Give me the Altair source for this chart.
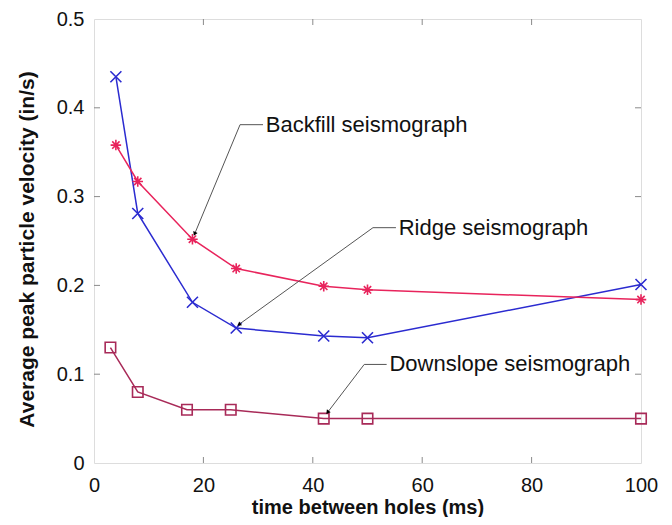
import math
import altair as alt
import pandas as pd

# ---- data ----
time_ridge = [4, 8, 18, 26, 42, 50, 100]
ridge = [0.435, 0.281, 0.181, 0.152, 0.143, 0.141, 0.201]
time_backfill = [4, 8, 18, 26, 42, 50, 100]
backfill = [0.358, 0.317, 0.252, 0.219, 0.199, 0.195, 0.184]
time_down = [3, 8, 17, 25, 42, 50, 100]
down = [0.130, 0.080, 0.060, 0.060, 0.050, 0.050, 0.050]

x_ticks = [0, 20, 40, 60, 80, 100]
y_ticks = [0, 0.1, 0.2, 0.3, 0.4, 0.5]

labels = ["Backfill seismograph", "Ridge seismograph", "Downslope seismograph"]
label_x = [31.4, 55.7, 54.0]
label_y = [0.381, 0.265, 0.111]
elbow_x = [26.7, 51.0, 49.4]
tip_x = [18.4, 26.5, 42.7]
tip_y = [0.258, 0.156, 0.057]

W, H = 547, 444
XMAX, YMAX = 100, 0.5

BLUE = "#2b2bd0"
PINK = "#e8245c"
MAROON = "#a82a58"
FRAME = "#8a8a8a"
FONT = "Liberation Sans"

xs = alt.Scale(domain=[0, XMAX], nice=False)
ys = alt.Scale(domain=[0, YMAX], nice=False)

def series(t, v, name):
    return pd.DataFrame({"t": t, "v": v, "s": name})

d_ridge = series(time_ridge, ridge, "Ridge")
d_back = series(time_backfill, backfill, "Backfill")
d_down = series(time_down, down, "Downslope")

X_PATH = "M-1,-1L1,1M-1,1L1,-1"
STAR_PATH = "M-1,0L1,0M0,-1L0,1M-0.7,-0.7L0.7,0.7M-0.7,0.7L0.7,-0.7"

def line_layer(df, color):
    return alt.Chart(df).mark_line(color=color, strokeWidth=1.5).encode(
        x=alt.X("t:Q", scale=xs,
                axis=alt.Axis(values=x_ticks, title="time between holes (ms)",
                              ticks=False, domain=False, grid=False, labelFlush=False,
                              labelFont=FONT, labelFontSize=20, labelColor="#111",
                              labelPadding=12,
                              titleFont=FONT, titleFontSize=20, titleFontWeight="bold",
                              titleColor="#111", titleX=W / 2, titleY=44,
                              titleBaseline="middle")),
        y=alt.Y("v:Q", scale=ys,
                axis=alt.Axis(values=y_ticks, title="Average peak particle velocity (in/s)",
                              ticks=False, domain=False, grid=False, format=".1~f",
                              labelFlush=False,
                              labelFont=FONT, labelFontSize=20, labelColor="#111",
                              labelPadding=10,
                              titleFont=FONT, titleFontSize=21, titleFontWeight="bold",
                              titleColor="#111", titleX=-67, titleY=230,
                              titleBaseline="middle")),
    )

def marker_layer(df, color, shape, size):
    return alt.Chart(df).mark_point(shape=shape, size=size, filled=False,
                                    color=color, strokeWidth=1.6, opacity=1).encode(
        x=alt.X("t:Q", scale=xs), y=alt.Y("v:Q", scale=ys))

# inward ticks
inner_x = pd.DataFrame({"t": x_ticks[1:-1]})
inner_y = pd.DataFrame({"v": y_ticks[1:-1]})
tick_len = 6
tb = alt.Chart(inner_x).mark_rule(color=FRAME, strokeWidth=1).encode(
    x=alt.X("t:Q", scale=xs), y=alt.value(H), y2=alt.value(H - tick_len))
tt = alt.Chart(inner_x).mark_rule(color=FRAME, strokeWidth=1).encode(
    x=alt.X("t:Q", scale=xs), y=alt.value(0), y2=alt.value(tick_len))
tl = alt.Chart(inner_y).mark_rule(color=FRAME, strokeWidth=1).encode(
    y=alt.Y("v:Q", scale=ys), x=alt.value(0), x2=alt.value(tick_len))
tr = alt.Chart(inner_y).mark_rule(color=FRAME, strokeWidth=1).encode(
    y=alt.Y("v:Q", scale=ys), x=alt.value(W), x2=alt.value(W - tick_len))

# annotation leaders
def px(x):
    return x / XMAX * W

def py(y):
    return H - y / YMAX * H

segs = []
heads = []
for i in range(len(labels)):
    segs.append({"x": label_x[i] - 0.5, "y": label_y[i], "x2": elbow_x[i], "y2": label_y[i]})
    segs.append({"x": elbow_x[i], "y": label_y[i], "x2": tip_x[i], "y2": tip_y[i]})
    dx = px(tip_x[i]) - px(elbow_x[i])
    dy = py(tip_y[i]) - py(label_y[i])
    ang = math.degrees(math.atan2(dx, -dy)) % 360
    heads.append({"x": tip_x[i], "y": tip_y[i], "a": ang})
seg_df = pd.DataFrame(segs)
head_df = pd.DataFrame(heads)
lab_df = pd.DataFrame({"x": label_x, "y": label_y, "label": labels})

leaders = alt.Chart(seg_df).mark_rule(color="#555555", strokeWidth=1).encode(
    x=alt.X("x:Q", scale=xs), y=alt.Y("y:Q", scale=ys),
    x2="x2:Q", y2="y2:Q")
arrowheads = alt.Chart(head_df).mark_point(shape="triangle-up", filled=True,
                                           color="black", size=22, opacity=1).encode(
    x=alt.X("x:Q", scale=xs), y=alt.Y("y:Q", scale=ys),
    angle=alt.Angle("a:Q", scale=None))
texts = alt.Chart(lab_df).mark_text(align="left", baseline="middle", font=FONT,
                                    fontSize=22, color="#111").encode(
    x=alt.X("x:Q", scale=xs), y=alt.Y("y:Q", scale=ys), text="label:N")

chart = alt.layer(
    tb, tt, tl, tr,
    line_layer(d_ridge, BLUE), line_layer(d_back, PINK), line_layer(d_down, MAROON),
    marker_layer(d_ridge, BLUE, X_PATH, 121),
    marker_layer(d_back, PINK, STAR_PATH, 110),
    marker_layer(d_down, MAROON, "square", 110),
    leaders, arrowheads, texts,
).properties(
    width=W, height=H,
    autosize=alt.AutoSizeParams(type="none"),
    padding={"left": 86, "top": 11, "right": 23, "bottom": 54},
).configure_view(stroke=FRAME, strokeWidth=1.2).configure(background="white")

chart.save("out.html", embed_options={"renderer": "svg", "actions": False})
